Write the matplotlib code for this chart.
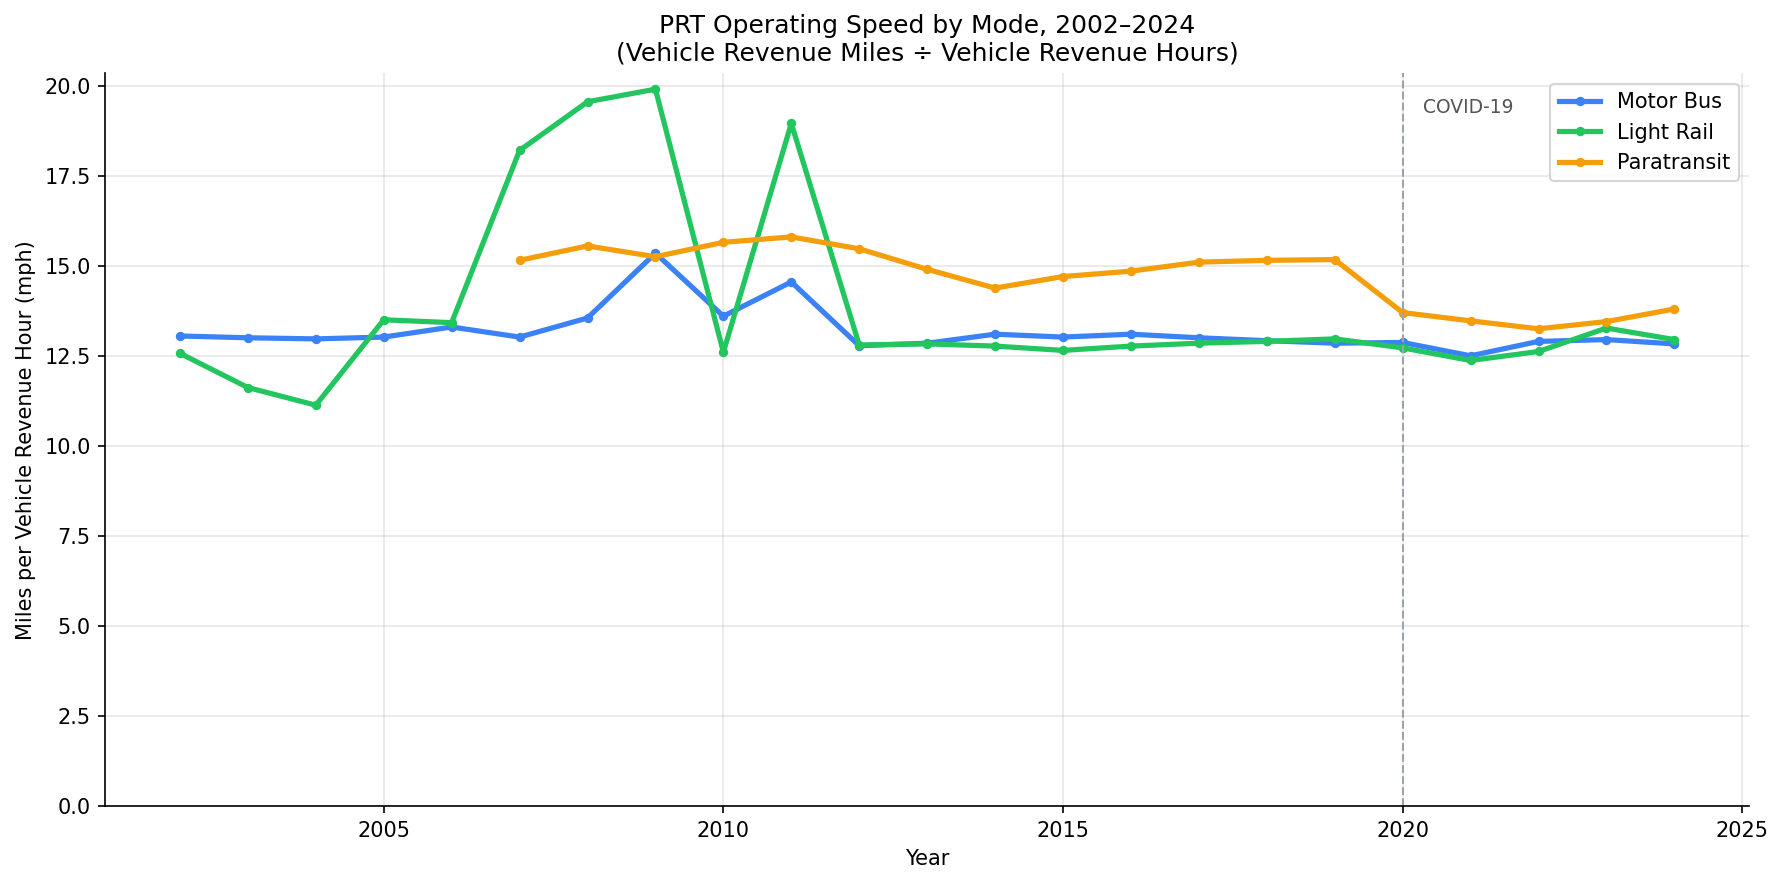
import matplotlib
matplotlib.use("Agg")
import matplotlib.pyplot as plt

years = list(range(2002, 2025))
motor_bus = [13.05, 13.0, 12.97, 13.02, 13.3, 13.02, 13.55, 15.35, 13.6, 14.55, 12.78,
             12.85, 13.1, 13.02, 13.1, 13.0, 12.92, 12.85, 12.87, 12.5, 12.9, 12.95, 12.83]
light_rail = [12.57, 11.62, 11.13, 13.5, 13.42, 18.2, 19.55, 19.9, 12.6, 18.95, 12.8,
              12.83, 12.77, 12.65, 12.77, 12.85, 12.9, 12.97, 12.72, 12.37, 12.62, 13.27, 12.95]
para_years = list(range(2007, 2025))
paratransit = [15.15, 15.55, 15.25, 15.65, 15.8, 15.47, 14.9, 14.38, 14.7, 14.85, 15.1,
               15.15, 15.17, 13.7, 13.47, 13.25, 13.45, 13.8]

fig, ax = plt.subplots(figsize=(1783/150, 884/150), dpi=150)
fig.subplots_adjust(left=0.059, right=0.981, top=0.917, bottom=0.088)

ax.plot(years, motor_bus, color="#3b82f6", lw=2.5, marker="o", ms=3.5, label="Motor Bus")
ax.plot(years, light_rail, color="#22c55e", lw=2.5, marker="o", ms=3.5, label="Light Rail")
ax.plot(para_years, paratransit, color="#f59e0b", lw=2.5, marker="o", ms=3.5, label="Paratransit")

ax.set_ylim(bottom=0)
ax.axvline(2020, color="#9ca3af", ls="--", lw=1)
ax.text(2020.3, 19.4, "COVID-19", color="#555555", fontsize=9, va="center")

ax.set_title("PRT Operating Speed by Mode, 2002\u20132024\n(Vehicle Revenue Miles \u00f7 Vehicle Revenue Hours)", fontsize=12)
ax.set_xlabel("Year")
ax.set_ylabel("Miles per Vehicle Revenue Hour (mph)")
ax.grid(True, alpha=0.3)
ax.spines["top"].set_visible(False)
ax.spines["right"].set_visible(False)
ax.legend(loc="upper right")

fig.savefig("out.png", dpi=150)
